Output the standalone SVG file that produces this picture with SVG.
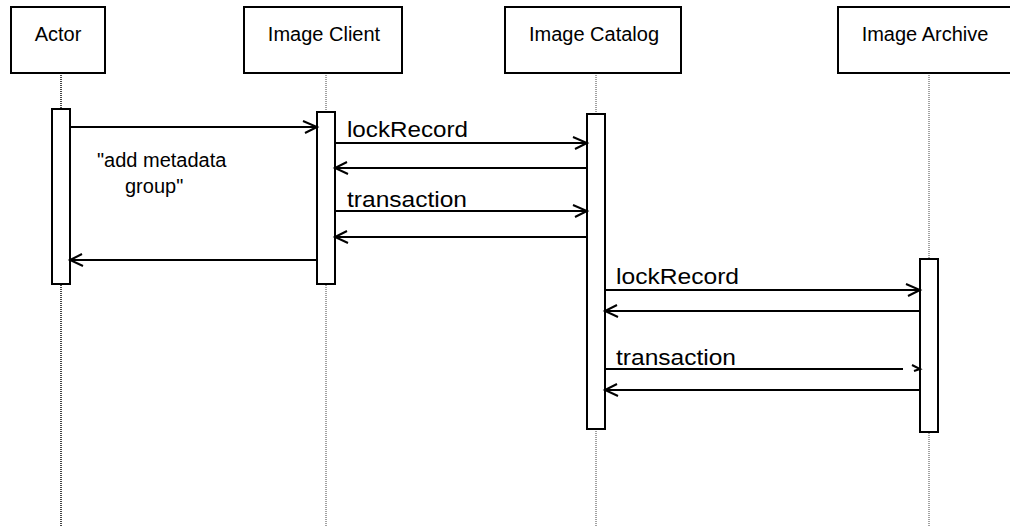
<svg xmlns="http://www.w3.org/2000/svg" width="1010" height="527" viewBox="0 0 1010 527">
<style>
.box{fill:#fff;stroke:#000;stroke-width:2}
.bar{fill:#fff;stroke:#000;stroke-width:2}
.life{stroke:#444;stroke-width:1;stroke-dasharray:1,1;fill:none}
.msg{stroke:#000;stroke-width:2;fill:none}
.head{stroke:#000;stroke-width:2;fill:none}
.hdr{font-family:"Liberation Sans",Arial,sans-serif;font-size:20px;fill:#000;text-anchor:middle}
.lbl{font-family:"Liberation Sans",Arial,sans-serif;font-size:22px;fill:#000}
.note{font-family:"Liberation Sans",Arial,sans-serif;font-size:20px;fill:#000}
</style>
<rect width="1010" height="527" fill="#fff"/>
<g id="lifelines">
<line class="life" x1="61" y1="73" x2="61" y2="527" style="stroke-width:2"/>
<line class="life" x1="326" y1="73" x2="326" y2="527"/>
<line class="life" x1="596" y1="73" x2="596" y2="527"/>
<line class="life" x1="929" y1="73" x2="929" y2="527"/>
</g>
<g id="actor">
<rect class="box" x="11" y="7" width="94" height="66"/>
<text class="hdr" x="58" y="41">Actor</text>
<rect class="bar" x="52" y="109" width="18" height="175"/>
</g>
<g id="image-client">
<rect class="box" x="244" y="7" width="158" height="66"/>
<text class="hdr" x="324" y="41">Image Client</text>
<rect class="bar" x="317" y="112" width="18" height="172"/>
</g>
<g id="image-catalog">
<rect class="box" x="505" y="7" width="176" height="66"/>
<text class="hdr" x="594" y="41">Image Catalog</text>
<rect class="bar" x="587" y="114" width="18" height="315"/>
</g>
<g id="image-archive">
<rect class="box" x="838" y="7" width="182" height="66"/>
<text class="hdr" x="925" y="41">Image Archive</text>
<rect class="bar" x="920" y="259" width="18" height="173"/>
</g>
<g id="connectors">
<line class="msg" x1="70" y1="127" x2="317" y2="127"/>
<polyline class="head" points="303,121 317,127 305,133"/>
<text class="note" x="97" y="167">"add metadata</text>
<text class="note" x="125" y="193">group"</text>

<line class="msg" x1="335" y1="143" x2="587" y2="143"/>
<polyline class="head" points="573,137 587,143 575,149"/>
<text class="lbl" x="347" y="137" textLength="121" lengthAdjust="spacingAndGlyphs">lockRecord</text>
<line class="msg" x1="587" y1="168" x2="335" y2="168"/>
<polyline class="head" points="347,162 335,168 348,174"/>

<line class="msg" x1="335" y1="211" x2="587" y2="211"/>
<polyline class="head" points="573,205 587,211 575,217"/>
<text class="lbl" x="347" y="207" textLength="120" lengthAdjust="spacingAndGlyphs">transaction</text>
<line class="msg" x1="587" y1="237" x2="335" y2="237"/>
<polyline class="head" points="347,231 335,237 348,243"/>

<line class="msg" x1="317" y1="260" x2="70" y2="260"/>
<polyline class="head" points="82,254 70,260 83,266"/>

<line class="msg" x1="605" y1="290" x2="920" y2="290"/>
<polyline class="head" points="906,284 920,290 908,296"/>
<text class="lbl" x="616" y="284" textLength="123" lengthAdjust="spacingAndGlyphs">lockRecord</text>
<line class="msg" x1="920" y1="311" x2="605" y2="311"/>
<polyline class="head" points="617,305 605,311 618,317"/>

<line class="msg" x1="605" y1="369" x2="903" y2="369"/>
<polyline class="head" points="912,365 920,369 914,371"/>
<text class="lbl" x="616" y="365" textLength="120" lengthAdjust="spacingAndGlyphs">transaction</text>
<line class="msg" x1="920" y1="390" x2="605" y2="390"/>
<polyline class="head" points="617,384 605,390 618,396"/>
</g>
</svg>
